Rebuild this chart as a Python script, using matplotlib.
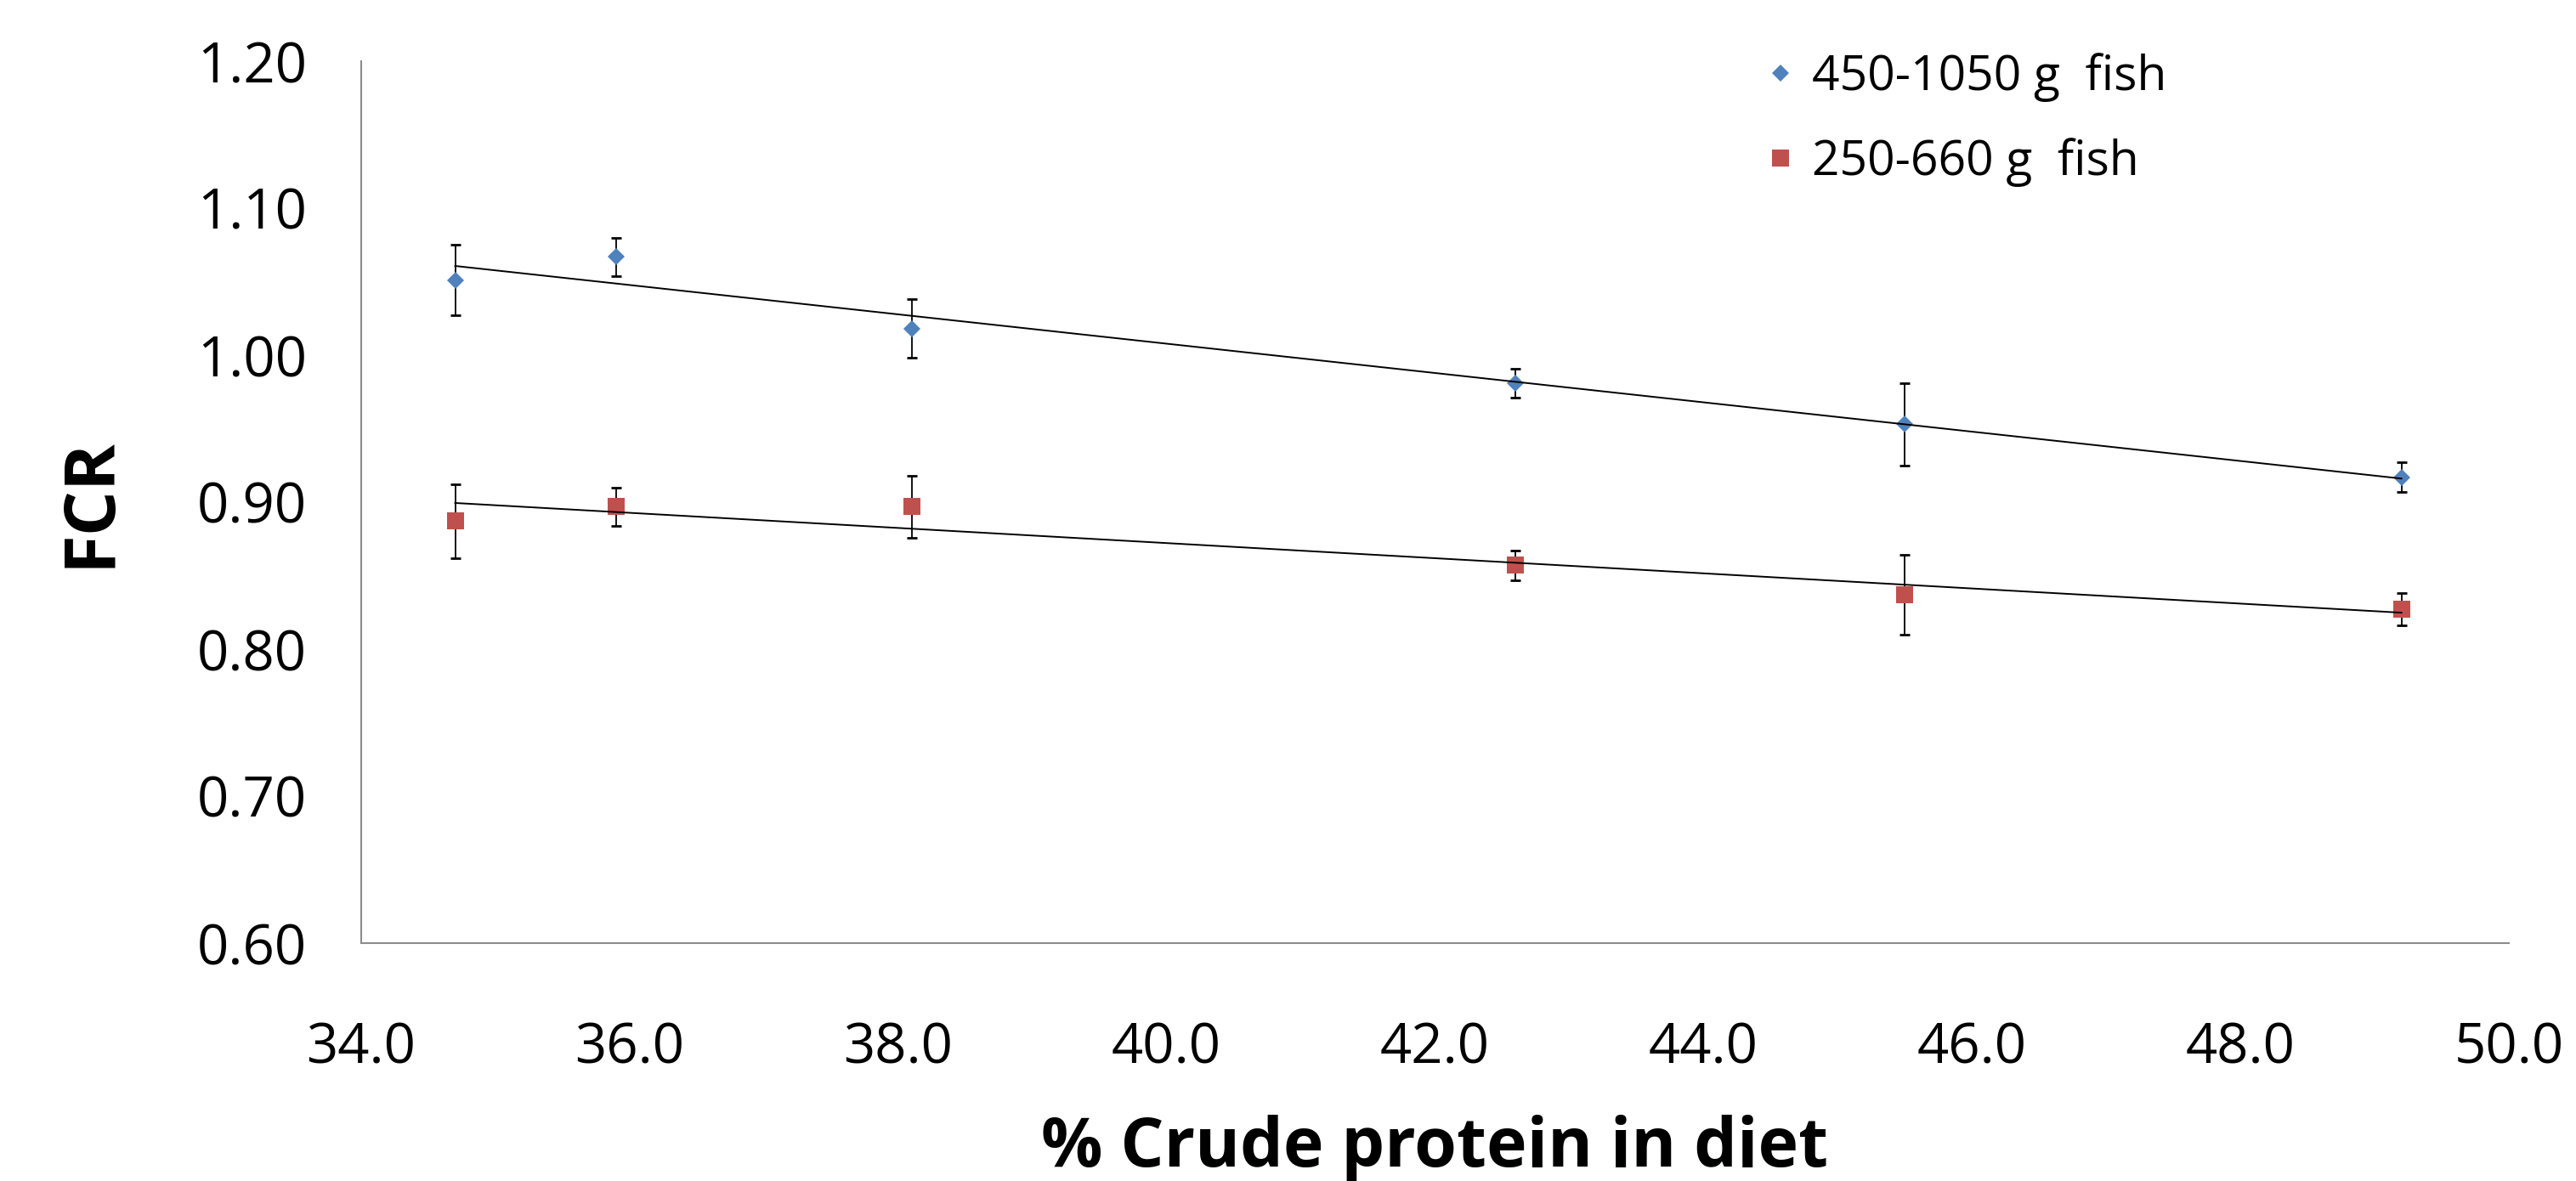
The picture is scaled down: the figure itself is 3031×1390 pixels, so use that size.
import numpy as np
import matplotlib
matplotlib.use("Agg")
import matplotlib.pyplot as plt
from matplotlib import font_manager

# ---- data ----
protein = [34.7, 35.9, 38.1, 42.6, 45.5, 49.2]
fcr_large = [1.051, 1.067, 1.018, 0.981, 0.953, 0.917]
err_large = [0.024, 0.013, 0.020, 0.010, 0.028, 0.010]
fcr_small = [0.887, 0.897, 0.897, 0.857, 0.837, 0.827]
err_small = [0.025, 0.013, 0.021, 0.010, 0.027, 0.011]
labels = ["450-1050 g  fish", "250-660 g  fish"]
xticks = [34.0, 36.0, 38.0, 40.0, 42.0, 44.0, 46.0, 48.0, 50.0]
yticks = [0.60, 0.70, 0.80, 0.90, 1.00, 1.10, 1.20]

names = {f.name for f in font_manager.fontManager.ttflist}
fam = [f for f in ["Liberation Sans Narrow", "Open Sans", "DejaVu Sans"] if f in names]
plt.rcParams['font.family'] = fam

fig = plt.figure(figsize=(30.31, 13.90), dpi=100)
ax = fig.add_axes([425/3031, 1 - 1110/1390, (2952-425)/3031, (1110-72)/1390])

blue = "#4F81BD"
red = "#C0504D"

ax.errorbar(protein, fcr_large, yerr=err_large, fmt='none', ecolor='black',
            elinewidth=1.3, capsize=4, capthick=2, zorder=2)
ax.errorbar(protein, fcr_small, yerr=err_small, fmt='none', ecolor='black',
            elinewidth=1.3, capsize=4, capthick=2, zorder=2)
ax.plot(protein, fcr_large, linestyle='none', marker='D', ms=10.5, color=blue,
        mew=0, label=labels[0], zorder=3)
ax.plot(protein, fcr_small, linestyle='none', marker='s', ms=14.5, color=red,
        mew=0, label=labels[1], zorder=3)

for ys in (fcr_large, fcr_small):
    k, b = np.polyfit(protein, ys, 1)
    xs = np.array([min(protein), max(protein)])
    ax.plot(xs, k * xs + b, color='black', lw=1.4, zorder=4)

ax.set_xlim(34, 50)
ax.set_ylim(0.6, 1.2)
ax.set_xticks(xticks)
ax.set_xticklabels([f"{v:.1f}" for v in xticks])
ax.set_yticks(yticks)
ax.set_yticklabels([f"{v:.2f}" for v in yticks])
ax.tick_params(axis='both', length=0, labelsize=47)
ax.tick_params(axis='y', pad=46)
ax.tick_params(axis='x', pad=66)
for s in ('top', 'right'):
    ax.spines[s].set_visible(False)
for s in ('left', 'bottom'):
    ax.spines[s].set_color('#8c8c8c')
    ax.spines[s].set_linewidth(1.5)

ax.set_xlabel("% Crude protein in diet", fontsize=58, fontweight='bold', labelpad=32)
ax.set_ylabel("FCR", fontsize=60, fontweight='bold', labelpad=60)

ax.legend(loc='upper left', bbox_to_anchor=(2078/3031, 1 - 62/1390),
          bbox_transform=fig.transFigure, frameon=False, fontsize=41,
          handlelength=0.6, handletextpad=0.35, borderpad=0, borderaxespad=0,
          labelspacing=0.75, markerscale=1.0)

fig.savefig("out.png", dpi=100)
